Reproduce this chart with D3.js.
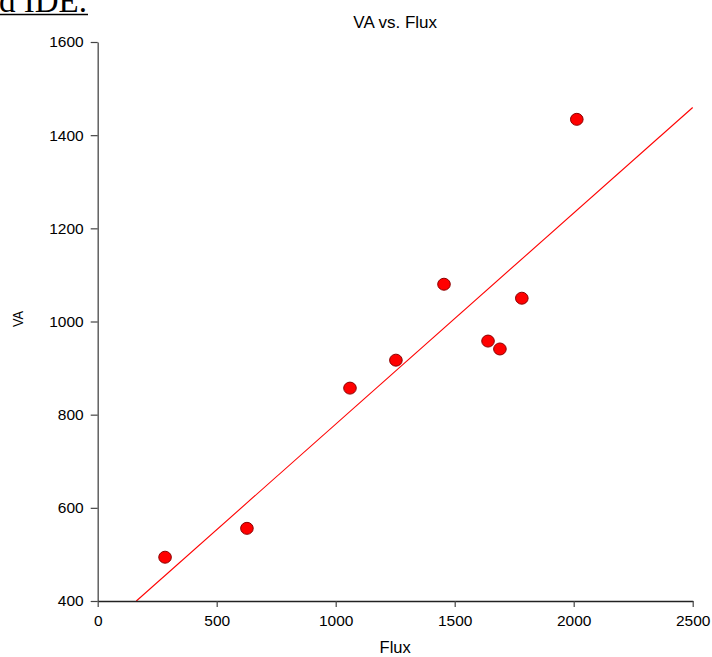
<!DOCTYPE html>
<html>
<head>
<meta charset="utf-8">
<script src="https://cdn.jsdelivr.net/npm/d3@7"></script>
<style>
  html, body { margin: 0; padding: 0; background: #fff; }
  svg { display: block; }
  text { font-family: "Liberation Sans", Arial, sans-serif; fill: #000; }
</style>
</head>
<body>
<svg id="chart" width="712" height="657"></svg>
<script>
// Observations: Flux (x) and VA (y)
const flux = [283, 627, 1060, 1253, 1455, 1640, 1690, 1782, 2013];
const va   = [494, 556, 857, 917, 1080, 958, 941, 1050, 1434];

const xTicks = [0, 500, 1000, 1500, 2000, 2500];
const yTicks = [400, 600, 800, 1000, 1200, 1400, 1600];

const title = "VA vs. Flux";
const xLabel = "Flux";
const yLabel = "VA";
const headerText = "d IDE.";

const svg = d3.select("#chart");
const W = 712, H = 657;
const margin = { left: 97.7, right: W - 692.7, top: 42, bottom: H - 601 };

const x = d3.scaleLinear().domain([0, 2500]).range([margin.left, W - margin.right]);
const y = d3.scaleLinear().domain([400, 1600]).range([H - margin.bottom, margin.top]);

// Heading fragment at the top-left corner
svg.append("text")
  .attr("x", -1).attr("y", 12)
  .style("font-family", "'Liberation Serif', 'Times New Roman', serif")
  .style("font-size", "33px")
  .text(headerText);
svg.append("line")
  .attr("x1", 0).attr("x2", 88).attr("y1", 14.5).attr("y2", 14.5)
  .attr("stroke", "#000").attr("stroke-width", 1.5);

// Title
svg.append("text")
  .attr("x", (x.range()[0] + x.range()[1]) / 2).attr("y", 27.5)
  .attr("text-anchor", "middle")
  .style("font-size", "17px")
  .text(title);

// Least-squares fit line
const mx = d3.mean(flux), my = d3.mean(va);
const sxy = d3.sum(flux, (d, i) => (d - mx) * (va[i] - my));
const sxx = d3.sum(flux, d => (d - mx) * (d - mx));
const slope = sxy / sxx;
const intercept = my - slope * mx;
const xStart = Math.max(0, (400 - intercept) / slope);
const xEnd = 2500;

svg.append("line")
  .attr("x1", x(xStart)).attr("y1", y(intercept + slope * xStart))
  .attr("x2", x(xEnd)).attr("y2", y(intercept + slope * xEnd))
  .attr("stroke", "#ff0000").attr("stroke-width", 1.1);

// Axes
const yAxis = d3.axisLeft(y).tickValues(yTicks).tickFormat(d3.format("d"))
  .tickSize(7).tickPadding(7).tickSizeOuter(0);
const xAxis = d3.axisBottom(x).tickValues(xTicks).tickFormat(d3.format("d"))
  .tickSize(6).tickPadding(8).tickSizeOuter(0);

const gy = svg.append("g").attr("transform", `translate(${margin.left},0)`).call(yAxis);
gy.select(".domain").attr("stroke", "#555").attr("stroke-width", 1.4);
gy.selectAll(".tick line").attr("stroke", "#444").attr("stroke-width", 1.2);
gy.selectAll(".tick text").style("font-size", "15.5px").attr("fill", "#000")
  .style("font-family", "'Liberation Sans', Arial, sans-serif");

const gx = svg.append("g").attr("transform", `translate(0,${H - margin.bottom})`).call(xAxis);
gx.select(".domain").attr("stroke", "#222").attr("stroke-width", 1.3);
gx.selectAll(".tick line").attr("stroke", "#444").attr("stroke-width", 1.2);
gx.selectAll(".tick text").style("font-size", "15.5px").attr("fill", "#000")
  .style("font-family", "'Liberation Sans', Arial, sans-serif");

// Axis titles
svg.append("text")
  .attr("x", (x.range()[0] + x.range()[1]) / 2).attr("y", 653)
  .attr("text-anchor", "middle")
  .style("font-size", "16.5px")
  .text(xLabel);

svg.append("text")
  .attr("transform", "translate(23,319) rotate(-90)")
  .attr("text-anchor", "middle")
  .attr("textLength", 16)
  .attr("lengthAdjust", "spacingAndGlyphs")
  .style("font-size", "14px")
  .text(yLabel);

// Data points
svg.append("g").selectAll("ellipse")
  .data(flux.map((f, i) => ({ f, v: va[i] })))
  .join("ellipse")
  .attr("cx", d => x(d.f)).attr("cy", d => y(d.v))
  .attr("rx", 6.3).attr("ry", 6)
  .attr("fill", "#ff0000")
  .attr("stroke", "#8b0000").attr("stroke-width", 1);
</script>
</body>
</html>
